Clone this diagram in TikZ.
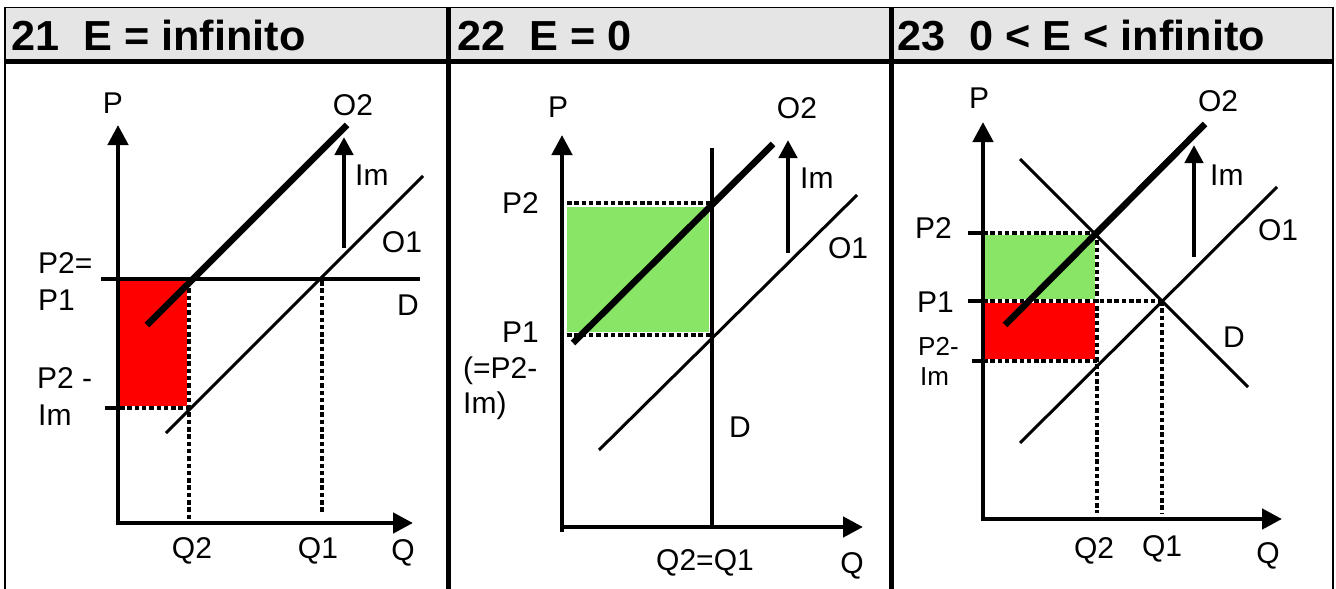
\documentclass[tikz,border=0pt]{standalone}
\usepackage{fontspec}
\setmainfont{Liberation Sans}
\usetikzlibrary{arrows.meta}
\definecolor{hdrgray}{RGB}{229,229,229}
\definecolor{gainGreen}{RGB}{137,229,102}
\definecolor{lossRed}{RGB}{255,0,0}
\begin{document}
\begin{tikzpicture}[x=1pt,y=-1pt,
 lbl/.style={font=\fontsize{30}{30}\selectfont, inner sep=0pt, anchor=base},
 lblw/.style={lbl, anchor=base west},
 smalllbl/.style={font=\fontsize{26}{26}\selectfont, inner sep=0pt, anchor=base west},
 ttl/.style={font=\fontsize{42}{42}\selectfont\bfseries, inner sep=0pt, anchor=base west, xscale=1.03},
 axisline/.style={line width=4.5pt, -{Triangle[length=20pt,width=20pt]}},
 imarrow/.style={line width=4.5pt, -{Triangle[length=18pt,width=18pt]}},
 supplyline/.style={line width=3pt},
 supplythick/.style={line width=6.5pt},
 demandline/.style={line width=3pt},
 demandthick/.style={line width=4pt},
 dotline/.style={line width=4.2pt, dash pattern=on 4.5pt off 2.8pt},
 tickline/.style={line width=4pt},
 frameline/.style={line width=2pt},
]
\useasboundingbox (0,0) rectangle (1336,589);
% ---------- frame & header ----------
\fill[hdrgray] (5,8) rectangle (1333,59);
\coordinate (ftl) at (4,7.5); \coordinate (ftr) at (1334,7.5);
\draw[line width=1.2pt] (ftl) -- (ftr);
\coordinate (fl1) at (4.5,7) ; \coordinate (fl2) at (4.5,589);
\draw[frameline] (fl1) -- (fl2);
\coordinate (fr1) at (1333,7) ; \coordinate (fr2) at (1333,589);
\draw[line width=1.5pt] (fr1) -- (fr2);
\coordinate (hb1) at (4,61.5); \coordinate (hb2) at (1334,61.5);
\draw[line width=5.5pt] (hb1) -- (hb2);
\coordinate (dv1a) at (448.5,7); \coordinate (dv1b) at (448.5,589);
\draw[line width=4.5pt] (dv1a) -- (dv1b);
\coordinate (dv2a) at (891,7); \coordinate (dv2b) at (891,589);
\draw[line width=5pt] (dv2a) -- (dv2b);
\node[ttl] (t1) at (11,50) {21\ \ E = infinito};
\node[ttl] (t2) at (457,50) {22\ \ E = 0};
\node[ttl] (t3) at (897,50) {23\ \ 0 < E < infinito};

% ---------- panel 1 ----------
\fill[lossRed] (120,281) rectangle (187,406);
\coordinate (p1top) at (118,125);
\coordinate (q1end) at (413,523);
\coordinate (o1b) at (118,525.25);
\draw[axisline] (o1b) -- (p1top);
\coordinate (o1l) at (115.75,523);
\draw[axisline] (o1l) -- (q1end);
\coordinate (d1a) at (101,279); \coordinate (d1b) at (420,279);
\draw[demandthick] (d1a) -- (d1b);
\coordinate (q2a) at (189,281); \coordinate (q2b) at (189,523);
\draw[dotline] (q2a) -- (q2b);
\coordinate (q1a) at (322,281); \coordinate (q1b) at (322,513);
\draw[dotline] (q1a) -- (q1b);
\coordinate (tk1a) at (105,408); \coordinate (tk1b) at (120,408); \coordinate (tk1c) at (189,408);
\draw[tickline] (tk1a) -- (tk1b);
\draw[dotline] (tk1b) -- (tk1c);
\coordinate (s1a) at (166,433); \coordinate (s1b) at (423,176);
\draw[supplyline] (s1a) -- (s1b);
\coordinate (s2a) at (147,325); \coordinate (s2b) at (347,125);
\draw[supplythick] (s2a) -- (s2b);
\coordinate (im1a) at (344,248); \coordinate (im1b) at (344,137);
\draw[imarrow] (im1a) -- (im1b);
\node[lbl] (P_1) at (113,113) {P};
\node[lbl] (O2_1) at (353,115) {O2};
\node[lblw] (Im_1) at (355,185) {Im};
\node[lbl] (O1_1) at (402,252) {O1};
\node[lblw] (P2eq_1) at (38,273) {P2=};
\node[lblw] (P1_1) at (38,310) {P1};
\node[lbl] (D_1) at (408,315) {D};
\node[lblw] (P2m_1) at (37,388) {P2 -};
\node[lblw] (Imb_1) at (38,425) {Im};
\node[lbl] (Q2_1) at (192,558) {Q2};
\node[lbl] (Q1_1) at (318,558) {Q1};
\node[lbl] (Q_1) at (403,560) {Q};

% ---------- panel 2 ----------
\fill[gainGreen] (567,207) rectangle (709,332);
\coordinate (o2b) at (562,532);
\coordinate (p2top) at (562,135);
\coordinate (o2l) at (560,527);
\coordinate (q2end) at (863,527);
\draw[axisline] (o2b) -- (p2top);
\draw[axisline] (o2l) -- (q2end);
\coordinate (dt2a) at (567,203); \coordinate (dt2b) at (712,203);
\draw[dotline] (dt2a) -- (dt2b);
\coordinate (db2a) at (567,335); \coordinate (db2b) at (712,335);
\draw[dotline] (db2a) -- (db2b);
\coordinate (d2a) at (712,148); \coordinate (d2b) at (712,527);
\draw[demandthick] (d2a) -- (d2b);
\coordinate (s21a) at (599,450); \coordinate (s21b) at (857,195);
\draw[supplyline] (s21a) -- (s21b);
\coordinate (s22a) at (573,343); \coordinate (s22b) at (773,144);
\draw[supplythick] (s22a) -- (s22b);
\coordinate (im2a) at (788,253); \coordinate (im2b) at (788,140);
\draw[imarrow] (im2a) -- (im2b);
\node[lbl] (P_2) at (558,117) {P};
\node[lbl] (O2_2) at (797,118) {O2};
\node[lblw] (Im_2) at (800,188) {Im};
\node[lbl] (O1_2) at (848,258) {O1};
\node[lblw] (P2_2) at (502,213) {P2};
\node[lblw] (P1_2) at (502,342) {P1};
\node[lblw] (P2m_2) at (463,378) {(=P2-};
\node[lblw] (Imb_2) at (463,413) {Im)};
\node[lbl] (D_2) at (740,437) {D};
\node[lbl] (Q21_2) at (705,570) {Q2=Q1};
\node[lbl] (Q_2) at (852,573) {Q};

% ---------- panel 3 ----------
\fill[gainGreen] (985,235) rectangle (1095,299);
\fill[lossRed] (985,303) rectangle (1095,359);
\coordinate (o3b) at (983,521.25);
\coordinate (p3top) at (983,122);
\coordinate (o3l) at (980.75,519);
\coordinate (q3end) at (1282,519);
\draw[axisline] (o3b) -- (p3top);
\draw[axisline] (o3l) -- (q3end);
\coordinate (tk3a) at (968,233); \coordinate (tk3b) at (983,233); \coordinate (tk3c) at (1097,233);
\draw[tickline] (tk3a) -- (tk3b);
\draw[dotline] (tk3b) -- (tk3c);
\coordinate (tk4a) at (968,301); \coordinate (tk4b) at (983,301); \coordinate (tk4c) at (1162,301);
\draw[tickline] (tk4a) -- (tk4b);
\draw[dotline] (tk4b) -- (tk4c);
\coordinate (tk5a) at (972,361); \coordinate (tk5b) at (983,361); \coordinate (tk5c) at (1097,361);
\draw[tickline] (tk5a) -- (tk5b);
\draw[dotline] (tk5b) -- (tk5c);
\coordinate (v3a) at (1097,233); \coordinate (v3b) at (1097,513);
\draw[dotline] (v3a) -- (v3b);
\coordinate (v4a) at (1162,301); \coordinate (v4b) at (1162,513);
\draw[dotline] (v4a) -- (v4b);
\coordinate (d3a) at (1020,159); \coordinate (d3b) at (1248,387);
\draw[demandline] (d3a) -- (d3b);
\coordinate (s31a) at (1020,443); \coordinate (s31b) at (1277,187);
\draw[supplyline] (s31a) -- (s31b);
\coordinate (s32a) at (1005,325); \coordinate (s32b) at (1205,124);
\draw[supplythick] (s32a) -- (s32b);
\coordinate (im3a) at (1194,257); \coordinate (im3b) at (1194,145);
\draw[imarrow] (im3a) -- (im3b);
\node[lbl] (P_3) at (979,108) {P};
\node[lbl] (O2_3) at (1218,111) {O2};
\node[lblw] (Im_3) at (1210,185) {Im};
\node[lbl] (O1_3) at (1278,240) {O1};
\node[lbl] (D_3) at (1234,347) {D};
\node[lblw] (P2_3) at (915,238) {P2};
\node[lblw] (P1_3) at (917,312) {P1};
\node[smalllbl] (P2m_3) at (918,355) {P2-};
\node[smalllbl] (Imb_3) at (920,385) {Im};
\node[lbl] (Q2_3) at (1094,558) {Q2};
\node[lbl] (Q1_3) at (1162,556) {Q1};
\node[lbl] (Q_3) at (1268,563) {Q};
\end{tikzpicture}
\end{document}
